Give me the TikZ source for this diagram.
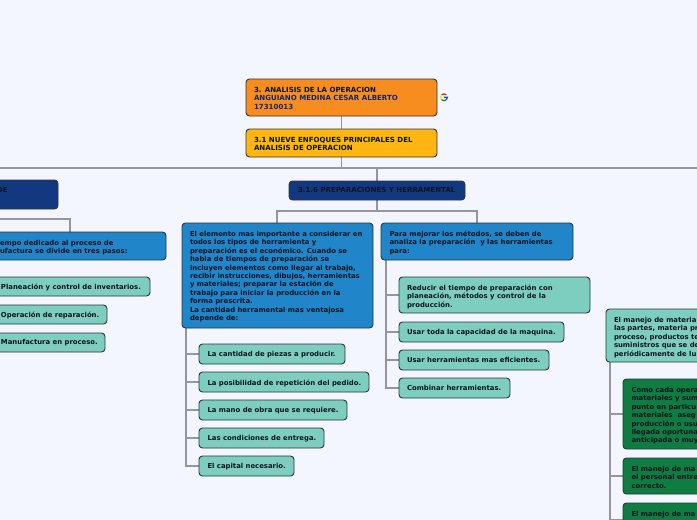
\documentclass[tikz,border=0pt]{standalone}
\usepackage{fontspec}
\setmainfont{DejaVu Sans}
\definecolor{bgc}{HTML}{F4F6FF}
\definecolor{linec}{HTML}{94969E}
\definecolor{edgec}{HTML}{2B3440}
\definecolor{orangec}{HTML}{F78C1F}
\definecolor{yellowc}{HTML}{FFB612}
\definecolor{navyc}{HTML}{12397F}
\definecolor{bluec}{HTML}{2086C9}
\definecolor{tealc}{HTML}{7DCEBF}
\definecolor{greenc}{HTML}{0F7C41}
\definecolor{inkc}{HTML}{0B1420}
\definecolor{inkb}{HTML}{12286B}
\tikzset{
 x=1pt,y=-1pt,
 box/.style={draw=edgec,line width=0.9pt,rounded corners=3.5pt},
 conn/.style={draw=linec,line width=1.8pt},
 txt/.style={anchor=north west,inner sep=0pt,outer sep=0pt,font=\bfseries\fontsize{6.88}{8.45}\selectfont,text=inkc,align=left},
 captxt/.style={txt,font=\bfseries\fontsize{7.05}{8.45}\selectfont}
}
\begin{document}
\begin{tikzpicture}
\useasboundingbox (0,0) rectangle (697,520);
\clip (0,0) rectangle (697,520);
\fill[bgc] (0,0) rectangle (697,520);
% connectors
\coordinate (busL) at (-10,168); \coordinate (busR) at (710,168);
\draw[conn] (341.5,116) -- (341.5,168);
\draw[conn] (busL) -- (busR);
\draw[conn] (377,168) -- (377,181);
\draw[conn] (377,200) -- (377,211);
\draw[conn] (277,223) -- (277,211) -- (477,211) -- (477,223);
\draw[conn] (-10,219) -- (70,219) -- (70,232);
\draw[conn] (186,328) -- (186,466) -- (199,466);
\foreach \y in {354,382,410,438} \draw[conn] (186,\y) -- (199,\y);
\draw[conn] (386,260) -- (386,388) -- (399,388);
\foreach \y in {295,332,360} \draw[conn] (386,\y) -- (399,\y);
\draw[conn] (610,362) -- (610,530);
\foreach \y in {414,476,520} \draw[conn] (610,\y) -- (623,\y);
% top
\draw[box,fill=orangec] (246,79) rectangle (437,116);
\node[captxt] (t1) at (254,87) {3. ANALISIS DE LA OPERACION\\\textcolor{inkb}{ANGUIANO MEDINA CESAR ALBERTO}\\\textcolor{inkb}{17310013}};
\draw[box,fill=yellowc] (246,129) rectangle (437,157);
\node[captxt] (t2) at (254,137) {3.1 NUEVE ENFOQUES PRINCIPALES DEL\\ANALISIS DE OPERACION};
% google
\begin{scope}[shift={(444,97.3)},x=1pt,y=1pt,line width=1.2pt]
\draw[red!85!orange] (45:3.4) arc[start angle=45,end angle=135,radius=3.4];
\draw[yellow!85!orange] (135:3.4) arc[start angle=135,end angle=225,radius=3.4];
\draw[green!60!black] (225:3.4) arc[start angle=225,end angle=315,radius=3.4];
\draw[blue!70!cyan] (315:3.4) arc[start angle=315,end angle=360,radius=3.4] -- (0.2,0);
\end{scope}
% navy
\draw[box,fill=navyc] (289,181) rectangle (465,200);
\node[captxt] (t3) at (298,187.5) {3.1.6 PREPARACIONES Y HERRAMENTAL};
\draw[box,fill=navyc] (-10,180) rectangle (58,209);
\node[captxt] (t4) at (-3,187) {DE};
% left
\draw[box,fill=bluec] (-10,232) rectangle (166,260);
\node[txt] (t5) at (0,240) {empo dedicado al proceso de\\ufactura se divide en tres pasos:};
\draw[box,fill=tealc] (-10,277) rectangle (150,296);
\node[txt] (t6) at (1,283.5) {Planeación y control de inventarios.};
\draw[box,fill=tealc] (-10,305) rectangle (107,324);
\node[txt] (t7) at (1,311.5) {Operación de reparación.};
\draw[box,fill=tealc] (-10,333) rectangle (105,352);
\node[txt] (t8) at (1,339.5) {Manufactura en proceso.};
% centre
\draw[box,fill=bluec] (182,223) rectangle (373,328);
\node[txt] (t9) at (190,231) {El elemento mas importante a considerar en\\todos los tipos de herramienta y\\preparación es el económico. Cuando se\\habla de tiempos de preparación se\\incluyen elementos como llegar al trabajo,\\recibir instrucciones, dibujos, herramientas\\y materiales; preparar la estación de\\trabajo para iniciar la producción en la\\forma prescrita.\\La cantidad herramental mas ventajosa\\depende de:};
\draw[box,fill=tealc] (199,344) rectangle (345,364);
\node[txt] (t10) at (207.5,351.7) {La cantidad de piezas a producir.};
\draw[box,fill=tealc] (199,372) rectangle (369,392);
\node[txt] (t11) at (207.5,379.7) {La posibilidad de repetición del pedido.};
\draw[box,fill=tealc] (199,400) rectangle (347,420);
\node[txt] (t12) at (207.5,407.7) {La mano de obra que se requiere.};
\draw[box,fill=tealc] (199,428) rectangle (324,448);
\node[txt] (t13) at (207.5,435.7) {Las condiciones de entrega.};
\draw[box,fill=tealc] (199,456) rectangle (294,476);
\node[txt] (t14) at (207.5,463.7) {El capital necesario.};
% right of centre
\draw[box,fill=bluec] (381,223) rectangle (573,260);
\node[txt] (t15) at (389.5,231) {Para mejorar los métodos, se deben de\\analiza la preparación~ y las herramientas\\para:};
\draw[box,fill=tealc] (399,277) rectangle (590,313);
\node[txt] (t16) at (407,285) {Reducir el tiempo de preparación con\\planeación, métodos y control de la\\producción.};
\draw[box,fill=tealc] (399,322) rectangle (564,342);
\node[txt] (t17) at (407,329.7) {Usar toda la capacidad de la maquina.};
\draw[box,fill=tealc] (399,350) rectangle (549,370);
\node[txt] (t18) at (407,357.7) {Usar herramientas mas eficientes.};
\draw[box,fill=tealc] (399,378) rectangle (510,398);
\node[txt] (t19) at (407,385.7) {Combinar herramientas.};
% far right
\draw[box,fill=tealc] (606,309) rectangle (710,362);
\node[txt] (t20) at (614,317) {El manejo de materia\\las partes, materia pr\\proceso, productos te\\suministros que se de\\periódicamente de lu};
\draw[box,fill=greenc] (623,379) rectangle (710,449);
\node[txt] (t21) at (631.5,387) {Como cada opera\\materiales y sum\\punto en particu\\materiales~ aseg\\producción o usu\\llegada oportuna\\anticipada o muy};
\draw[box,fill=greenc] (623,458) rectangle (710,494);
\node[txt] (t22) at (631.5,466) {El manejo de ma\\el personal entre\\correcto.};
\draw[box,fill=greenc] (623,503) rectangle (710,540);
\node[txt] (t23) at (631.5,511) {El manejo de ma};
\end{tikzpicture}
\end{document}
